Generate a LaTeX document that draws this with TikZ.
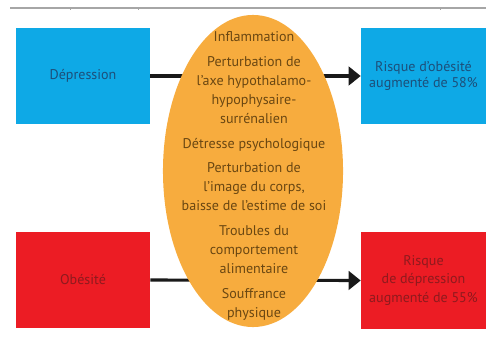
\documentclass[tikz,border=0pt]{standalone}
\usepackage{fontspec}
\setmainfont{PT Sans}
\usetikzlibrary{%
  arrows.meta,%
  shapes,%
  positioning%
}
\definecolor{boxblue}{HTML}{0EA9E6}
\definecolor{boxred}{HTML}{EC1C24}
\definecolor{ovalorange}{HTML}{F7AC3E}
\definecolor{blueink}{HTML}{1D4F7A}
\definecolor{redink}{HTML}{8E1A1E}
\definecolor{brownink}{HTML}{6A4712}

\begin{document}
\begin{tikzpicture}
  [
  x=0.025cm, y=-0.025cm,
  font=\fontsize{10}{12}\selectfont, >={Triangle[length=3mm,width=4.6mm]},
  cause/.style={rectangle, minimum height=24mm, minimum width=33.5mm, inner sep=0pt, align=center},
  risk/.style={rectangle, minimum height=24mm, minimum width=31.25mm, inner sep=0pt, align=center},
  link/.style={->, line width=2.2pt, draw=black!90},
  oval/.style={ellipse, minimum width=45mm, minimum height=78mm, inner sep=0pt, fill=ovalorange}
  ]

\useasboundingbox (0,0) rectangle (486,336);

% top rule with its little ticks
\draw[gray!70, line width=0.8pt] (10,8) -- (486,8);
\foreach \t in {70,138,440} {
  \draw[gray!70, line width=0.6pt] (\t,8) -- (\t,10);
}

\node[cause, fill=boxblue, text=blueink] (dep) at (83,76) {Dépression};
\node[cause, fill=boxred, text=redink] (obe) at (83,280) {Obésité};

\node[risk, fill=boxblue, text=blueink, font=\fontsize{10}{11.5}\selectfont] (riskobe) at (423.5,76) {Risque d’obésité\\augmenté de 58\%};
\node[risk, fill=boxred, text=redink, font=\fontsize{10}{13}\selectfont] (riskdep) at (423.5,280.5) {Risque\\de dépression\\augmenté de 55\%};

\draw[link] (dep.east) -- (riskobe.west);
\draw[link] (obe.east) -- (riskdep.west);

\node[oval] (mech) at (253,171) {};
\node[align=center, inner sep=0pt, text=brownink, font=\fontsize{10}{13.6}\selectfont] (mechtext) at (254,176)
  {Inflammation\\[3.8pt]
   Perturbation de\\l’axe hypothalamo-\\hypophysaire-\\surrénalien\\[3.8pt]
   Détresse psychologique\\[3.8pt]
   Perturbation de\\l’image du corps,\\baisse de l’estime de soi\\[3.8pt]
   Troubles du\\comportement\\alimentaire\\[3.8pt]
   Souffrance\\physique};

\end{tikzpicture}
\end{document}
